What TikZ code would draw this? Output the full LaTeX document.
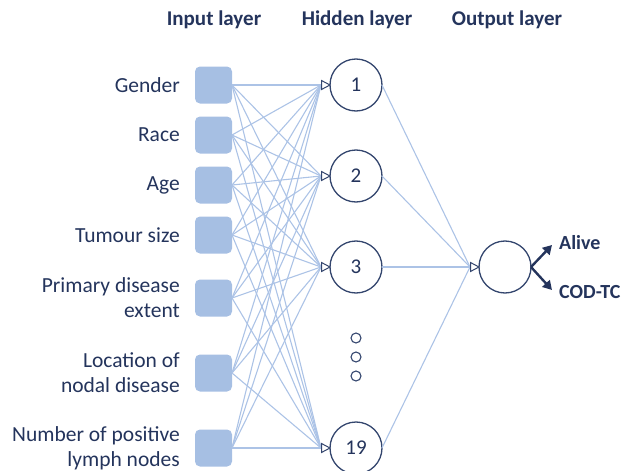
\documentclass[tikz,border=0pt]{standalone}
\usepackage{fontspec}
\setmainfont{Carlito}
\usetikzlibrary{arrows.meta}
\definecolor{navy}{RGB}{36,52,92}
\definecolor{cstroke}{RGB}{52,70,110}
\definecolor{sqfill}{RGB}{166,191,227}
\definecolor{edge}{RGB}{172,195,230}
\tikzset{
  inbox/.style={fill=sqfill, draw=none, rounded corners=5pt, minimum width=37pt, minimum height=37pt, inner sep=0pt, outer sep=0pt},
  hid/.style={circle, draw=cstroke, line width=1.3pt, minimum size=52pt, inner sep=0pt, outer sep=0pt, text=navy, font=\fontsize{21}{23}\selectfont},
  lbl/.style={anchor=east, align=right, text=navy, font=\fontsize{21.5}{25}\selectfont, inner sep=0pt},
  hdr/.style={text=navy, font=\bfseries\fontsize{21}{23}\selectfont, inner sep=0pt},
  conn/.style={draw=edge, line width=1.1pt},
  tri/.style={draw=cstroke, line width=1pt, fill=white},
  dotc/.style={circle, draw=cstroke, line width=1.1pt, minimum size=10pt, inner sep=0pt},
  outarr/.style={draw=navy, line width=2.4pt, -{Triangle[length=9pt,width=10pt]}},
  outlbl/.style={anchor=west, text=navy, font=\bfseries\fontsize{20}{22}\selectfont, inner sep=0pt}
}
\begin{document}
\begin{tikzpicture}[x=1pt,y=-1pt]
\useasboundingbox (0,0) rectangle (625,471);
% headers
\node[hdr] (h_in) at (214,20) {Input layer};
\node[hdr] (h_hid) at (357,20) {Hidden layer};
\node[hdr] (h_out) at (507,20) {Output layer};
% input squares
\foreach \i/\y in {1/85,2/135,3/185,4/235,5/298,6/373,7/448}{
  \node[inbox] (i\i) at (213.5,\y) {};
}
% labels
\node[lbl] (l1) at (180,85) {Gender};
\node[lbl] (l2) at (180,135) {Race};
\node[lbl] (l3) at (180,185) {Age};
\node[lbl] (l4) at (180,235) {Tumour size};
\node[lbl] (l5) at (180,298) {Primary disease\\extent};
\node[lbl] (l6) at (180,373) {Location of\\nodal disease};
\node[lbl] (l7) at (180,448) {Number of positive\\lymph nodes};
% hidden nodes
\foreach \h/\y/\t in {1/85/1,2/176/2,3/267/3,4/448/19}{
  \node[hid] (hn\h) at (356,\y) {\t};
  \coordinate (hb\h) at (321,\y);
}
% output
\node[hid] (o) at (505,267) {};
\coordinate (ob) at (470,267);
% connections
\foreach \i in {1,...,7}{
  \foreach \h in {1,...,4}{
    \draw[conn] (i\i.east) -- (hb\h);
  }
}
\foreach \h in {1,...,4}{
  \draw[conn] (hn\h.east) -- (ob);
  \draw[tri] (hn\h.west) -- ++(-8.5,-4.5) -- ++(0,9) -- cycle;
}
\draw[tri] (o.west) -- ++(-8.5,-4.5) -- ++(0,9) -- cycle;
% dots
\node[dotc] (d1) at (356,338) {};
\node[dotc] (d2) at (356,357) {};
\node[dotc] (d3) at (356,376) {};
% outputs
\coordinate (a1) at (552,245);
\coordinate (a2) at (552,290);
\draw[outarr] (o.east) -- (a1);
\draw[outarr] (o.east) -- (a2);
\node[outlbl] (alive) at (559,243) {Alive};
\node[outlbl] (cod) at (559,292) {COD-TC};
\end{tikzpicture}
\end{document}
